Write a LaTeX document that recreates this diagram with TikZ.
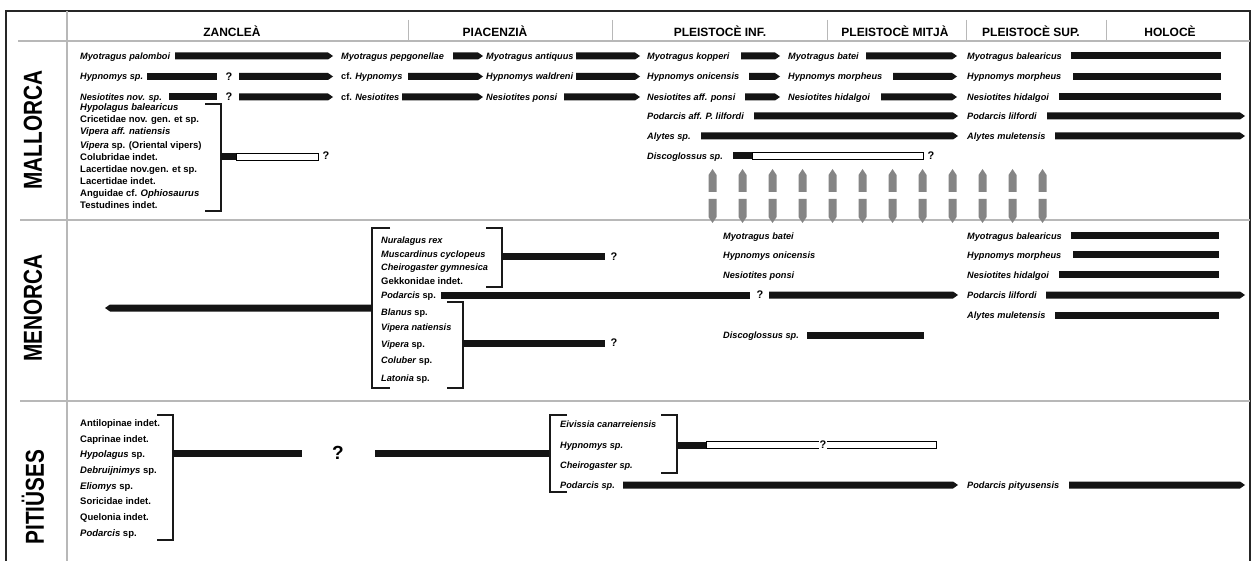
\documentclass[tikz,border=0pt]{standalone}
\usepackage{fontspec}
\setmainfont{Liberation Sans}
\usepackage{graphicx}
\newcommand{\labx}[4]{\node[lab] (#1) at (#2,{#3+3.2}) {#4};}
\newcommand{\lstx}[4]{\node[lst] (#1) at (#2,{#3+3.3}) {#4};}
\newcommand{\barT}[3]{\fill[barc] (#1,{#3-3.5}) -- ({#2-5},{#3-3.5}) -- (#2,#3) -- ({#2-5},{#3+3.5}) -- (#1,{#3+3.5}) -- cycle;}
\newcommand{\barF}[3]{\fill[barc] (#1,{#3-3.5}) rectangle (#2,{#3+3.5});}
\newcommand{\barW}[4]{\fill[barc] (#1,{#4-3.5}) rectangle (#2,{#4+3.5}); \draw[line width=0.9pt,fill=white] (#2,{#4-3.1}) rectangle (#3,{#4+3.1});}
\newcommand{\garr}[1]{\fill[garrow] ({#1-4},192) -- ({#1-4},175) -- (#1,169) -- ({#1+4},175) -- ({#1+4},192) -- cycle; \fill[garrow] ({#1-4},199) -- ({#1+4},199) -- ({#1+4},217) -- (#1,223) -- ({#1-4},217) -- cycle;}
\begin{document}
\begin{tikzpicture}[x=1pt,y=-1pt,
 lab/.style={font=\fontsize{9.2}{11}\selectfont\bfseries\itshape, anchor=base west, inner sep=0pt},
 lst/.style={font=\fontsize{9.5}{11}\selectfont\bfseries, anchor=base west, inner sep=0pt},
 hdr/.style={font=\fontsize{12}{14}\selectfont\bfseries, anchor=base, inner sep=0pt},
 reg/.style={font=\fontsize{26}{28}\selectfont\bfseries, rotate=90, inner sep=0pt},
 q/.style={font=\fontsize{11}{12}\selectfont\bfseries, inner sep=0.6pt},
 bigq/.style={font=\fontsize{19}{20}\selectfont\bfseries, inner sep=0pt},
 frame/.style={line width=1.2pt, draw=black!85},
 gridl/.style={line width=1.5pt, draw=black!28},
 brk/.style={line width=1.1pt, draw=black!90},
 barc/.style={fill=black!92},
 garrow/.style={fill=black!48}]
\useasboundingbox (0,0) rectangle (1255,561);
\fill[white] (0,0) rectangle (1255,561);
% frame and grid
\draw[frame] (6,561) -- (6,11) -- (1250,11) -- (1250,561);
\draw[gridl] (67,11) -- (67,561);
\draw[gridl] (18,41) -- (1250,41);
\draw[gridl] (20,220) -- (1250,220);
\draw[gridl] (20,401) -- (1250,401);
\foreach \dx in {408,612,827,966,1106} {\draw[gridl,line width=1pt] (\dx,20) -- (\dx,41);}
% headers
\node[hdr] (hz) at (232,37) {ZANCLEÀ};
\node[hdr] (hp) at (495,37) {PIACENZIÀ};
\node[hdr] (hpi) at (720,37) {PLEISTOCÈ INF.};
\node[hdr] (hpm) at (895,37) {PLEISTOCÈ MITJÀ};
\node[hdr] (hps) at (1031,37) {PLEISTOCÈ SUP.};
\node[hdr] (hh) at (1170,37) {HOLOCÈ};
% region labels
\node[reg] (rmal) at (33,130) {\scalebox{0.8}[1]{MALLORCA}};
\node[reg] (rmen) at (33,308) {\scalebox{0.8}[1]{MENORCA}};
\node[reg] (rpit) at (33,497) {\scalebox{0.8}[1]{PITIÜSES}};
% ===== MALLORCA rows
\labx{m11}{80}{56}{Myotragus palomboi} \barT{175}{333}{56}
\labx{m12}{341}{56}{Myotragus pepgonellae} \barT{453}{483}{56}
\labx{m13}{486}{56}{Myotragus antiquus} \barT{576}{640}{56}
\labx{m14}{647}{56}{Myotragus kopperi} \barT{741}{780}{56}
\labx{m15}{788}{56}{Myotragus batei} \barT{866}{957}{56}
\labx{m16}{967}{56}{Myotragus balearicus} \barF{1071}{1221}{56}
\labx{m21}{80}{76.5}{Hypnomys sp.} \barF{147}{217}{76.5} \node[q] (q21) at (229,76.5) {?} ; \barT{239}{333}{76.5}
\labx{m22}{341}{76.5}{\textup{cf.} Hypnomys} \barT{408}{483}{76.5}
\labx{m23}{486}{76.5}{Hypnomys waldreni} \barT{576}{640}{76.5}
\labx{m24}{647}{76.5}{Hypnomys onicensis} \barT{749}{780}{76.5}
\labx{m25}{788}{76.5}{Hypnomys morpheus} \barT{893}{957}{76.5}
\labx{m26}{967}{76.5}{Hypnomys morpheus} \barF{1073}{1221}{76.5}
\labx{m31}{80}{97}{Nesiotites nov. sp.} \barF{169}{217}{97} \node[q] (q31) at (229,97) {?}; \barT{239}{333}{97}
\labx{m32}{341}{97}{\textup{cf.} Nesiotites} \barT{402}{483}{97}
\labx{m33}{486}{97}{Nesiotites ponsi} \barT{564}{640}{97}
\labx{m34}{647}{97}{Nesiotites aff. ponsi} \barT{745}{780}{97}
\labx{m35}{788}{97}{Nesiotites hidalgoi} \barT{881}{957}{97}
\labx{m36}{967}{97}{Nesiotites hidalgoi} \barF{1059}{1221}{97}
\labx{m41}{647}{116}{Podarcis aff. P. lilfordi} \barT{754}{958}{116}
\labx{m42}{967}{116}{Podarcis lilfordi} \barT{1047}{1245}{116}
\labx{m51}{647}{136}{Alytes sp.} \barT{701}{958}{136}
\labx{m52}{967}{136}{Alytes muletensis} \barT{1055}{1245}{136}
\labx{m61}{647}{156}{Discoglossus sp.} \barW{733}{752}{923}{156} \node[q] (q61) at (931,156) {?};
% Mallorca left list
\lstx{ml1}{80}{107.5}{\textit{Hypolagus balearicus}}
\lstx{ml2}{80}{119.5}{Cricetidae nov. gen. et sp.}
\lstx{ml3}{80}{131.5}{\textit{Vipera aff. natiensis}}
\lstx{ml4}{80}{145.5}{\textit{Vipera} sp. (Oriental vipers)}
\lstx{ml5}{80}{157.5}{Colubridae indet.}
\lstx{ml6}{80}{169.5}{Lacertidae nov.gen. et sp.}
\lstx{ml7}{80}{181.5}{Lacertidae indet.}
\lstx{ml8}{80}{193.5}{Anguidae cf. \textit{Ophiosaurus}}
\lstx{ml9}{80}{205.5}{Testudines indet.}
\draw[brk] (205,104) -- (221,104) -- (221,211) -- (205,211);
\barW{221}{236}{318}{157} \node[q] (qml) at (326,156) {?};
% gray arrows
\foreach \k in {0,...,11} {\pgfmathsetmacro\gx{712.5+30*\k}\garr{\gx}}
% ===== MENORCA
\draw[brk] (390,228) -- (372,228) -- (372,388) -- (390,388);
\draw[brk] (486,228) -- (502,228) -- (502,287) -- (486,287);
\draw[brk] (447,302) -- (463,302) -- (463,388) -- (447,388);
\labx{n1}{381}{240}{Nuralagus rex}
\labx{n2}{381}{254}{Muscardinus cyclopeus}
\labx{n3}{381}{267.5}{Cheirogaster gymnesica}
\lstx{n4}{381}{281}{Gekkonidae indet.}
\labx{n5}{381}{295}{Podarcis \textup{sp.}}
\labx{n6}{381}{312}{Blanus \textup{sp.}}
\labx{n7}{381}{327.5}{Vipera natiensis}
\labx{n8}{381}{344}{Vipera \textup{sp.}}
\labx{n9}{381}{360.5}{Coluber \textup{sp.}}
\labx{n10}{381}{378}{Latonia \textup{sp.}}
\barF{502}{605}{257} \node[q] (qn1) at (614,257) {?};
\barF{463}{605}{343} \node[q] (qn2) at (614,343) {?};
\fill[barc] (372,304.5) -- (110,304.5) -- (105,308) -- (110,311.5) -- (372,311.5) -- cycle;
\barF{441}{750}{295} \node[q] (qn3) at (760,295) {?}; \barT{769}{958}{295}
\labx{n11}{967}{295}{Podarcis lilfordi} \barT{1046}{1245}{295}
\labx{n12}{723}{236}{Myotragus batei}
\labx{n13}{723}{255}{Hypnomys onicensis}
\labx{n14}{723}{275}{Nesiotites ponsi}
\labx{n15}{723}{335}{Discoglossus sp.} \barF{807}{924}{335}
\labx{n16}{967}{236}{Myotragus balearicus} \barF{1071}{1219}{236}
\labx{n17}{967}{255}{Hypnomys morpheus} \barF{1073}{1219}{255}
\labx{n18}{967}{275}{Nesiotites hidalgoi} \barF{1059}{1219}{275}
\labx{n19}{967}{315}{Alytes muletensis} \barF{1055}{1219}{315}
% ===== PITIUSES
\lstx{p1}{80}{423}{Antilopinae indet.}
\lstx{p2}{80}{438.7}{Caprinae indet.}
\lstx{p3}{80}{454.4}{\textit{Hypolagus} sp.}
\lstx{p4}{80}{470.1}{\textit{Debruijnimys} sp.}
\lstx{p5}{80}{485.8}{\textit{Eliomys} sp.}
\lstx{p6}{80}{501.5}{Soricidae indet.}
\lstx{p7}{80}{517.2}{Quelonia indet.}
\lstx{p8}{80}{533}{\textit{Podarcis} sp.}
\draw[brk] (157,415) -- (173,415) -- (173,540) -- (157,540);
\barF{173}{302}{453}
\node[bigq] (pq) at (338,453) {?};
\barF{375}{550}{453}
\draw[brk] (567,415) -- (550,415) -- (550,492) -- (567,492);
\draw[brk] (661,415) -- (677,415) -- (677,473) -- (661,473);
\labx{p9}{560}{424}{Eivissia canarreiensis}
\labx{p10}{560}{445}{Hypnomys sp.}
\labx{p11}{560}{465}{Cheirogaster sp.}
\labx{p12}{560}{485}{Podarcis sp.}
\barW{677}{706}{936}{445} \node[q,fill=white] (qp) at (823,445) {?};
\barT{623}{958}{485}
\labx{p13}{967}{485}{Podarcis pityusensis} \barT{1069}{1245}{485}
\end{tikzpicture}
\end{document}
